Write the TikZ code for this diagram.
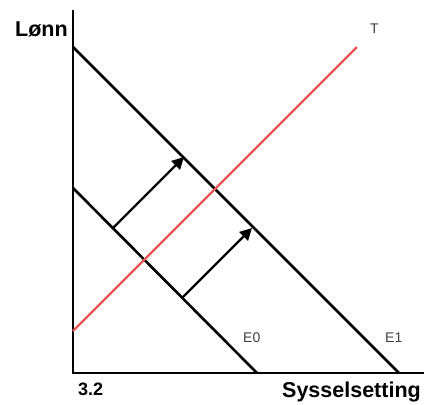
\documentclass[tikz,border=0pt]{standalone}
\usepackage{fontspec}
\setmainfont{Liberation Sans}
\usepackage{xcolor}
\usepackage{tikz}
\usetikzlibrary{arrows.meta,positioning}

\definecolor{tilbud}{RGB}{234,88,84}

\begin{document}
\begin{tikzpicture}[
    x=1pt, y=-1pt,
    akse/.style={line width=2.8pt, black},
    kurve/.style={line width=2.6pt, black},
    tkurve/.style={line width=2.2pt, tilbud},
    skift/.style={line width=2.4pt, -{Triangle[length=12pt,width=12pt]}},
    tittel/.style={font=\bfseries\fontsize{21.5}{23}\selectfont, inner sep=0pt, anchor=base west},
    merke/.style={font=\fontsize{14}{16}\selectfont, text=black!75, inner sep=0pt, anchor=base west}
]
    \useasboundingbox (0,0) rectangle (424,405);

    % akser
    \coordinate (origo) at (73,373);
    \coordinate (ytopp) at (73,10);
    \coordinate (xslutt) at (424,373);
    \draw[akse] (ytopp) -- (origo.center) -- (xslutt);

    % etterspørsel og tilbud
    \coordinate (e0start) at (73,188);
    \coordinate (e0slutt) at (257,373);
    \coordinate (e1start) at (73,47);
    \coordinate (e1slutt) at (399,373);
    \coordinate (tstart) at (73,331);
    \coordinate (tslutt) at (357,47);
    \draw[kurve] (e0start) -- (e0slutt);
    \draw[kurve] (e1start) -- (e1slutt);
    \draw[tkurve] (tstart) -- (tslutt);

    % skift
    \coordinate (a1fra) at (113,228);
    \coordinate (a1til) at (184,157);
    \coordinate (a2fra) at (182,298);
    \coordinate (a2til) at (252,228);
    \draw[skift] (a1fra) -- (a1til);
    \draw[skift] (a2fra) -- (a2til);

    \node[tittel] (lonn) at (15,36) {Lønn};
    \node[tittel, font=\bfseries\fontsize{18}{20}\selectfont] (tall) at (78,395) {3.2};
    \node[tittel] (syss) at (282,397) {Sysselsetting};
    \node[merke] (e0) at (243,342) {E0};
    \node[merke] (e1) at (385,342) {E1};
    \node[merke] (t) at (370,33) {T};
\end{tikzpicture}
\end{document}
